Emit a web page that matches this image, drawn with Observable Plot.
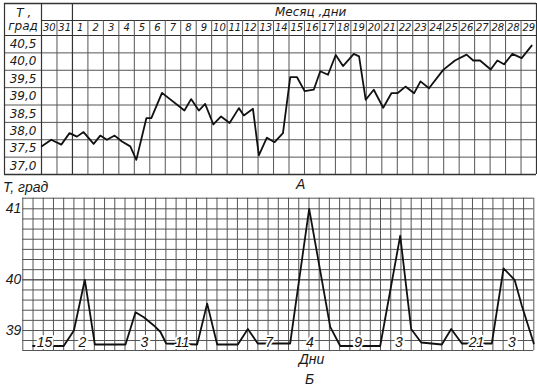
<!DOCTYPE html>
<html><head><meta charset="utf-8">
<script src="https://cdn.jsdelivr.net/npm/d3@7"></script>
<script src="https://cdn.jsdelivr.net/npm/@observablehq/plot@0.6"></script>
<style>
body{margin:0;background:#fff;}
#wrap{position:relative;width:537px;height:388px;overflow:hidden;background:#fff;}
#wrap svg{position:absolute;left:0;}
.lbl{position:absolute;font-family:"Liberation Sans",sans-serif;font-style:italic;font-size:14px;line-height:13px;white-space:nowrap;color:#1a1a1a;}
</style></head><body><div id="wrap"></div>
<script>
// ---- Chart A: temperature sheet ----
const dayLabels = ["30","31","1","2","3","4","5","6","7","8","9","10","11","12","13","14","15","16","17","18","19","20","21","22","23","24","25","26","27","28","28","29"];
const tickLabelsA = ["40,5","40,0","39,5","39,0","38,5","38,0","37,5","37,0"];
const tickValuesA = [40.5, 40.0, 39.5, 39.0, 38.5, 38.0, 37.5, 37.0];
const posA = [0.02,0.63,1.28,1.81,2.29,2.72,3.37,3.80,4.23,4.73,5.20,5.74,6.13,6.78,7.10,7.79,
  9.24,9.67,10.17,10.58,11.11,11.61,12.16,12.76,13.08,13.67,14.05,14.57,15.07,15.61,16.08,16.52,17.01,17.60,18.02,18.52,19.02,19.49,20.19,20.53,
  20.96,21.48,22.09,22.62,23.01,23.53,24.09,24.50,25.05,25.97,26.73,27.48,27.91,28.35,29.04,29.47,29.90,30.44,31.04,31.69];
const tempA = [37.56,37.75,37.61,37.94,37.84,37.97,37.63,37.87,37.75,37.87,37.70,37.56,37.17,38.37,38.37,39.10,
  38.59,38.92,38.59,38.78,38.19,38.42,38.23,38.66,38.45,38.64,37.30,37.81,37.68,37.94,39.55,39.55,39.15,39.19,39.72,39.62,40.19,39.87,40.22,40.15,
  38.90,39.19,38.67,39.09,39.09,39.28,39.09,39.43,39.23,39.76,40.03,40.20,40.03,40.03,39.77,40.03,39.92,40.22,40.10,40.46];

// ---- Chart B: relapsing fever ----
const posB = [1,4,5,6.07,7.05,10.05,11.03,11.84,12.82,13.47,14.03,17.06,18.04,19.02,21.04,22.02,22.99,26.16,28.02,30.08,31.06,34.97,36.93,38.0,38.98,41.0,41.92,42.96,45.89,47.04,48.12,48.83,49.49,50];
const tempB = [38.69,38.69,39.0,40.0,38.72,38.72,39.36,39.26,39.10,38.97,38.74,38.72,39.53,38.72,38.72,39.03,38.74,38.74,41.0,39.07,38.69,38.69,40.62,39.03,38.76,38.72,39.03,38.74,38.74,40.16,40.0,39.49,39.07,38.74];
const phaseLabels = ["15","2","3","11","7","4","9","3","21","3"];
const phasePos = [2.12,5.84,11.9,15.6,24.1,28.1,32.8,36.8,44.4,47.85];
const tickLabelsB = ["41","40","39"];
const tickValuesB = [41, 40, 39];

const GRID = "#555", BORDER = "#333", INK = "#111";
const FA = "DejaVu Sans, sans-serif";
const FB = "Liberation Sans, sans-serif";

const wrap = document.getElementById("wrap");

// top chart
const xL = -37 / 15.47; // left label column
const rowsA = d3.range(36.75, 40.76, 0.5);
const dataA = posA.map((p, i) => ({p, t: tempA[i]}));
const topChart = Plot.plot({
  width: 537, height: 180, margin: 0,
  style: {background: "transparent", overflow: "visible"},
  x: {type: "linear", domain: [0, 32], range: [41, 536], axis: null},
  y: {type: "linear", domain: [36.75, 40.75, 41.25, 41.75], range: [174, 35, 20, 3], axis: null},
  marks: [
    Plot.ruleY(rowsA.slice(1, -1), {x1: xL, x2: 32, stroke: GRID, strokeWidth: 1}),
    Plot.ruleY([40.75], {x1: xL, x2: 32, stroke: BORDER, strokeWidth: 1.2}),
    Plot.ruleY([41.25], {x1: 0, x2: 32, stroke: BORDER, strokeWidth: 1.1}),
    Plot.ruleY([36.75, 41.75], {x1: xL, x2: 32, stroke: BORDER, strokeWidth: 1.3}),
    Plot.ruleX(d3.range(1, 32).filter(k => k !== 2), {y1: 36.75, y2: 41.25, stroke: GRID, strokeWidth: 1}),
    Plot.ruleX([xL, 0, 2, 32], {y1: 36.75, y2: 41.75, stroke: BORDER, strokeWidth: 1.2}),
    Plot.line(dataA, {x: "p", y: "t", stroke: INK, strokeWidth: 1.8}),
    Plot.text(tickLabelsA, {x: xL / 2, y: (d, i) => tickValuesA[i], text: d => d, fontFamily: FA, fontStyle: "italic", fontSize: 12, fill: "#1a1a1a"}),
    Plot.text(dayLabels, {x: (d, i) => i + 0.5, y: 41.0, text: d => d, fontFamily: FA, fontStyle: "italic", fontSize: 10, fill: "#1a1a1a"}),
    Plot.text(["Т ,"], {x: xL / 2 + 0.05, y: 41.46, text: d => d, fontFamily: FA, fontStyle: "italic", fontSize: 12, fill: "#1a1a1a"}),
    Plot.text(["град"], {x: xL / 2, y: 41.05, text: d => d, fontFamily: FA, fontStyle: "italic", fontSize: 12, fill: "#1a1a1a"}),
    Plot.text(["Месяц ,дни"], {x: 17.4, y: 41.5, text: d => d, fontFamily: FA, fontStyle: "italic", fontSize: 12, fill: "#1a1a1a"})
  ]
});
topChart.style.top = "0px";
wrap.appendChild(topChart);

// bottom chart
const rowsB = d3.range(0, 8).map(k => 38.6 + k * 0.2).concat(d3.range(0, 9).map(k => 40 + k / 7));
const dataB = posB.map((p, i) => ({p, t: tempB[i]}));
const botChart = Plot.plot({
  width: 537, height: 172, margin: 0,
  style: {background: "transparent", overflow: "visible"},
  x: {type: "linear", domain: [0, 50], range: [22.3, 533.3], axis: null},
  y: {type: "linear", domain: [38.6, 39, 40, 41, 41 + 1 / 7], range: [160, 140, 89.3, 18.3, 7.7], axis: null},
  marks: [
    Plot.ruleY(rowsB, {x1: 0, x2: 50, stroke: GRID, strokeWidth: 1}),
    Plot.ruleX(d3.range(0, 51), {y1: 38.6, y2: 41 + 1 / 7, stroke: GRID, strokeWidth: 1}),
    Plot.line(dataB, {x: "p", y: "t", stroke: INK, strokeWidth: 1.8}),
    Plot.text(phaseLabels, {x: (d, i) => phasePos[i], y: 38.75, text: d => d, fontFamily: FB, fontStyle: "italic", fontSize: 14, fill: INK, stroke: "white", strokeWidth: 4, paintOrder: "stroke"}),
    Plot.text(tickLabelsB, {x: -0.9, y: (d, i) => tickValuesB[i], text: d => d, fontFamily: FB, fontStyle: "italic", fontSize: 14, fill: "#1a1a1a"})
  ]
});
botChart.style.top = "190px";
wrap.appendChild(botChart);

// captions
const caps = [
  {t: "А", l: 296, tp: 178},
  {t: "Т, град", l: 3, tp: 181},
  {t: "Дни", l: 299, tp: 353},
  {t: "Б", l: 305, tp: 373}
];
caps.forEach(c => {
  const d = document.createElement("div");
  d.className = "lbl";
  d.textContent = c.t;
  d.style.left = c.l + "px";
  d.style.top = c.tp + "px";
  wrap.appendChild(d);
});
</script>
</body></html>
